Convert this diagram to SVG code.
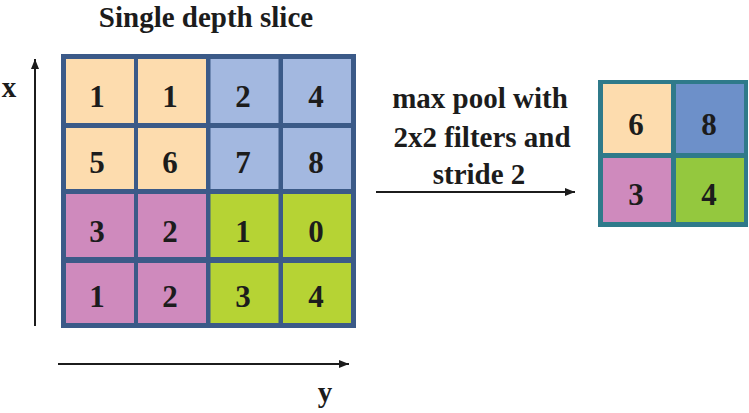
<svg xmlns="http://www.w3.org/2000/svg" width="749" height="413" viewBox="0 0 749 413" font-family="Liberation Serif, DejaVu Serif, serif">
<defs>
<style>
text{font-weight:bold;fill:#1c1c1c;}
.d{font-size:31px;text-anchor:middle;}
.lbl{font-size:29px;text-anchor:middle;}
.peach{fill:#fddcae;}
.lblue{fill:#a3b8e0;}
.mblue{fill:#6d90c9;}
.pink{fill:#cf8abd;}
.lime{fill:#b6d334;}
.green{fill:#94c83e;}
.ax{stroke:#1c1c1c;stroke-width:2;fill:none;}
</style>
<marker id="ah" viewBox="0 0 10 8" refX="10" refY="4" markerWidth="10" markerHeight="8" markerUnits="userSpaceOnUse" orient="auto">
<path d="M0,0 L10,4 L0,8 Z" fill="#1c1c1c"/>
</marker>
</defs>
<rect width="749" height="413" fill="#ffffff"/>
<text class="lbl" x="206" y="27" font-size="31">Single depth slice</text>
<g id="input-grid">
<rect x="61" y="54" width="295" height="274" fill="#3b5a88"/>
<rect class="peach" x="66" y="59" width="68" height="64"/>
<rect class="peach" x="138" y="59" width="68" height="64"/>
<rect class="lblue" x="210.5" y="59" width="68" height="64"/>
<rect class="lblue" x="283" y="59" width="68" height="64"/>
<rect class="peach" x="66" y="128" width="68" height="61"/>
<rect class="peach" x="138" y="128" width="68" height="61"/>
<rect class="lblue" x="210.5" y="128" width="68" height="61"/>
<rect class="lblue" x="283" y="128" width="68" height="61"/>
<rect class="pink" x="66" y="194" width="68" height="63"/>
<rect class="pink" x="138" y="194" width="68" height="63"/>
<rect class="lime" x="210.5" y="194" width="68" height="63"/>
<rect class="lime" x="283" y="194" width="68" height="63"/>
<rect class="pink" x="66" y="263" width="68" height="60"/>
<rect class="pink" x="138" y="263" width="68" height="60"/>
<rect class="lime" x="210.5" y="263" width="68" height="60"/>
<rect class="lime" x="283" y="263" width="68" height="60"/>
<text class="d" x="97" y="107">1</text>
<text class="d" x="170" y="107">1</text>
<text class="d" x="243" y="107">2</text>
<text class="d" x="316" y="107">4</text>
<text class="d" x="97" y="173">5</text>
<text class="d" x="170" y="173">6</text>
<text class="d" x="243" y="173">7</text>
<text class="d" x="316" y="173">8</text>
<text class="d" x="97" y="242">3</text>
<text class="d" x="170" y="242">2</text>
<text class="d" x="243" y="242">1</text>
<text class="d" x="316" y="242">0</text>
<text class="d" x="97" y="307">1</text>
<text class="d" x="170" y="307">2</text>
<text class="d" x="243" y="307">3</text>
<text class="d" x="316" y="307">4</text>
</g>
<g id="output-grid">
<rect x="598" y="80" width="150" height="147" fill="#2f7a8a"/>
<rect class="peach" x="603" y="84" width="68" height="69"/>
<rect class="mblue" x="676" y="84" width="68" height="69"/>
<rect class="pink" x="603" y="158" width="68" height="64"/>
<rect class="green" x="676" y="158" width="68" height="64"/>
<text class="d" x="636" y="135">6</text>
<text class="d" x="709" y="135">8</text>
<text class="d" x="636" y="205">3</text>
<text class="d" x="709" y="205">4</text>
</g>
<g id="pool-label">
<text class="lbl" x="480" y="108" font-size="27">max pool with</text>
<text class="lbl" x="482" y="147" font-size="28.5">2x2 filters and</text>
<text class="lbl" x="479" y="184" font-size="28">stride 2</text>
</g>
<g id="axis-labels">
<text class="lbl" x="9" y="97" font-size="30">x</text>
<text class="lbl" x="325" y="402" font-size="30">y</text>
</g>
<g id="connectors">
<line class="ax" x1="35" y1="326" x2="35" y2="59" marker-end="url(#ah)"/>
<line class="ax" x1="58" y1="364" x2="349" y2="364" marker-end="url(#ah)"/>
<line class="ax" x1="376" y1="192" x2="575" y2="192" marker-end="url(#ah)"/>
</g>
</svg>
